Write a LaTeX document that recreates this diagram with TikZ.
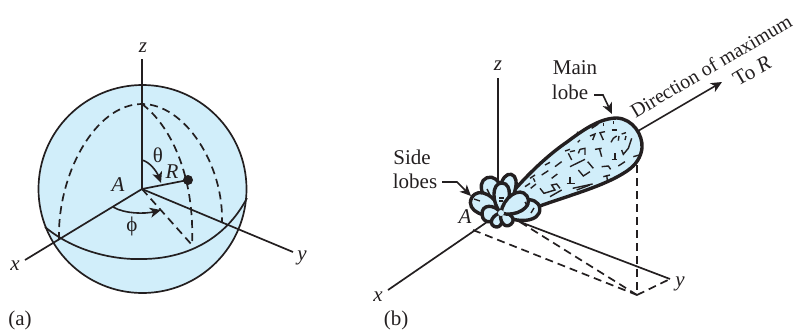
\documentclass[tikz,border=0pt]{standalone}
\usepackage{fontspec}
\setmainfont{Liberation Serif}
\usetikzlibrary{arrows.meta}
\definecolor{lobeblue}{RGB}{209,238,250}
\definecolor{ink}{RGB}{35,31,32}
\tikzset{
  ax/.style={draw=ink,line width=1.7pt},
  dsh/.style={draw=ink,line width=1.7pt,dash pattern=on 8pt off 5pt},
  lbl/.style={inner sep=0pt,text=ink,font=\fontsize{21}{25}\selectfont},
  lblr/.style={inner sep=0pt,text=ink,font=\fontsize{20}{24}\selectfont},
  arr/.style={draw=ink,line width=1.6pt,-{Stealth[length=11pt,width=10pt,inset=3pt]}},
  lobe/.style={draw=ink,fill=lobeblue,line width=3.4pt,line join=round},
  tick/.style={draw=ink,line width=1.4pt},
  petal/.pic={\path[lobe] (0,0) .. controls (0.3*\pl,0.65*\pw) and (\pl,0.72*\pw) .. (\pl,0) .. controls (\pl,-0.72*\pw) and (0.3*\pl,-0.65*\pw) .. (0,0);}
}
\newcommand{\petalat}[3]{\def\pl{#2}\def\pw{#3}\pic[rotate=#1] at (oB) {petal};}
\begin{document}
\begin{tikzpicture}[x=1pt,y=-1pt]
\useasboundingbox (0,0) rectangle (801,330);
% --- (a)
\coordinate (oA) at (142,189);
\coordinate (zA) at (142,59);
\coordinate (xA) at (25,260);
\coordinate (yA) at (293,252);
\coordinate (dot) at (188,180);
\coordinate (foot) at (192,245);
\fill[lobeblue] (142.5,189) circle[radius=104];
\draw[ax] (142.5,189) circle[radius=104];
\draw[ax] (45,227) .. controls (75,252) and (115,260) .. (142,259) .. controls (185,259) and (225,240) .. (247,198);
\draw[dsh] (59,240) .. controls (57,175) and (95,104) .. (142,104) .. controls (185,104) and (224,165) .. (222,223);
\draw[dsh] (142,104) .. controls (170,125) and (195,175) .. (192,245);
\draw[dsh] (oA) -- (foot);
\draw[ax] (zA) -- (oA);
\draw[ax] (xA) -- (oA);
\draw[ax] (oA) -- (yA);
\draw[ax] (oA) -- (dot);
\fill[ink] (dot) circle[radius=5];
\coordinate (t1) at (142,160);
\coordinate (t2) at (161,183);
\draw[arr] (t1) .. controls (150,162) and (157,172) .. (t2);
\coordinate (p1) at (113,207);
\coordinate (p2) at (161,210);
\draw[arr] (p1) .. controls (125,214) and (145,214) .. (p2);
\node[lbl] (lz) at (143,48) {\itshape z};
\node[lbl] (lth) at (158,155) {θ};
\node[lbl] (lR) at (172,172) {\itshape R};
\node[lbl] (lA) at (118,185) {\itshape A};
\node[lbl] (lph) at (132,226) {ϕ};
\node[lbl] (lx) at (15,266) {\itshape x};
\node[lbl] (ly) at (302,258) {\itshape y};
\node[lbl] (la) at (20,320) {(a)};
% --- (b)
\coordinate (oB) at (501,213);
\coordinate (zB) at (498,78);
\coordinate (zB2) at (498,186);
\coordinate (xB) at (388,290);
\coordinate (xB2) at (487,222);
\coordinate (yB) at (670,279);
\coordinate (yB2) at (515,220);
\coordinate (pk) at (637,295);
\coordinate (pt) at (637,165);
\coordinate (xf) at (473,230);
\coordinate (yf) at (520,222);
\coordinate (a1) at (638,131);
\coordinate (a2) at (722,82);
\draw[ax] (zB) -- (zB2);
\draw[ax] (xB) -- (xB2);
\draw[ax] (yB2) -- (yB);
\draw[dsh] (xf) -- (pk);
\draw[dsh] (yf) -- (pk);
\draw[dsh] (pk) -- (yB);
\draw[dsh] (pt) -- (pk);
\draw[arr] (a1) -- (a2);
% main lobe
\path[lobe] (510,195) .. controls (528,174) and (548,155) .. (567,142) .. controls (583,130) and (600,118) .. (617,118) .. controls (633,119) and (643,135) .. (642,148) .. controls (641,157) and (636,165) .. (627,171) .. controls (605,186) and (570,195) .. (537,207) -- (505,212) -- cycle;
% ticks in lobe
\begin{scope}[shift={(500,110)},x=0.3333pt,y=-0.3333pt]
\foreach \p in {
 {(315,65) -- (300,68) -- (310,90)}, {(270,78) -- (285,72) -- (278,90)}, {(335,60) -- (350,60)}, {(365,72) -- (378,68)},
 {(333,97) -- (340,85) -- (350,78)}, {(355,92) -- (357,78)}, {(375,90) -- (378,78)},
 {(395,85) -- (385,115) -- (370,133) -- (365,120)},
 {(285,118) -- (305,115)}, {(298,115) -- (305,140)}, {(335,148) -- (350,148)}, {(345,148) -- (345,130)},
 {(210,125) -- (225,122)}, {(205,130) -- (215,150)}, {(240,118) -- (255,115) -- (255,135)}, {(235,130) -- (240,118)},
 {(210,170) -- (255,148)}, {(263,155) -- (280,175)}, {(165,170) -- (185,155)}, {(135,165) -- (150,157)},
 {(195,123) -- (210,118)}, {(233,97) -- (240,90)}, {(275,55) -- (295,42)}, {(235,75) -- (232,65)}, {(310,48) -- (310,40)}, {(340,42) -- (340,32)},
 {(235,180) -- (250,198) -- (270,185)}, {(155,205) -- (172,192)}, {(125,195) -- (145,182)},
 {(90,205) -- (105,195)}, {(100,205) -- (105,215)}, {(75,230) -- (90,220)}, {(92,235) -- (108,222)},
 {(120,235) -- (132,250) -- (165,240) -- (155,225) -- (170,222) -- (180,235)},
 {(150,260) -- (185,240)}, {(200,220) -- (225,220)}, {(210,200) -- (210,220)},
 {(218,235) -- (278,222)}, {(230,240) -- (270,225)},
 {(305,170) -- (325,168) -- (332,178)}, {(310,200) -- (330,195)}, {(320,195) -- (322,210)},
 {(355,168) -- (375,155)}, {(375,190) -- (390,172)}, {(400,140) -- (418,135)}
}{\expandafter\draw\expandafter[\expandafter t\expandafter i\expandafter c\expandafter k\expandafter]\p;}
\end{scope}
% side lobes
\petalat{75}{40}{15}
\petalat{112}{38}{19}
\petalat{153}{33}{20}
\petalat{7}{39}{20}
\petalat{185}{19}{15}
\petalat{243}{15}{10}
\petalat{312}{15}{11}
\petalat{88}{30}{15}
\petalat{33}{31}{18}
\fill[lobeblue] (oB) circle[radius=3];
\foreach \a/\b/\c/\d in {474/199/480/201, 487/189/490/195, 525/202/528/207, 534/208/531/213, 499/198/504/198, 499/201/503/201}{\draw[tick] (\a,\b) -- (\c,\d);}
% labels
\node[lbl] (lz2) at (498,66) {\itshape z};
\node[lbl] (lA2) at (465,217) {\itshape A};
\node[lbl] (lx2) at (378,297) {\itshape x};
\node[lbl] (ly2) at (680,284) {\itshape y};
\node[lbl] (lb) at (396,320) {(b)};
\node[lbl] (s1) at (412,157) {Side};
\node[lbl] (s2) at (415,181) {lobes};
\node[lbl] (m1) at (575,68) {Main};
\node[lbl] (m2) at (570,92) {lobe};
\node[lblr,rotate=30.5] (dm) at (711,66) {Direction of maximum};
\node[lbl,rotate=30.5] (tr) at (752,71) {To \itshape R};
\draw[arr] (442,182) -- (457,182) -- (471,196);
\draw[arr] (594,95) -- (603,95) -- (612,114);
\end{tikzpicture}
\end{document}
